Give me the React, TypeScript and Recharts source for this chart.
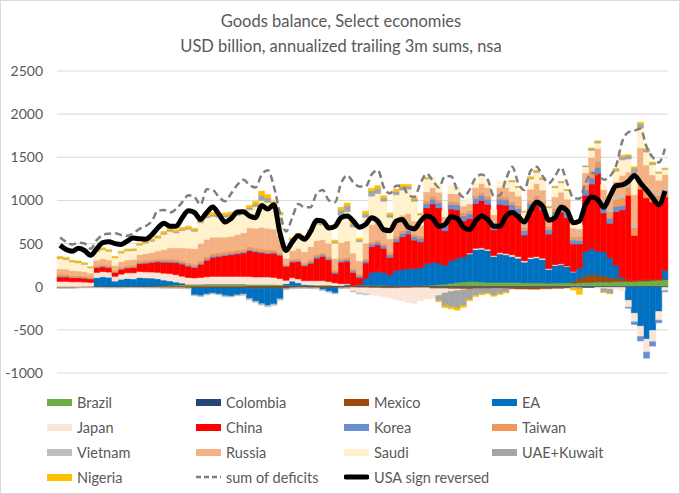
import React from "react";
import {
  ComposedChart,
  Bar,
  Line,
  XAxis,
  YAxis,
  CartesianGrid
} from "recharts";

// quarterly-ish readings, 100 periods, USD bn
const BRAZIL = [
  -5, -5, -3, 0, 2, 3,
  3, 3, 3, 3, 4, 4, 4,
  5, 5, 8, 10, 15, 20, 22,
  25, 25, 25, 25, 28, 28, 28, 28, 28, 28, 28,
  28, 28, 28, 28, 28, 25,
  15, 15, 15, 15, 15, 20, 20, 20, 15,
  15, 15, 15, 15, 15, 15,
  15, 15, 10, 10, 10, 10, 10,
  10, 15, 20, 25, 30, 40, 50, 55,
  60, 60, 55, 50, 50, 50, 50,
  50, 50, 45, 45, 45, 45, 40, 45, 45, 45, 40, 45,
  50, 50, 55, 55, 55, 60, 60, 60, 60, 65, 65, 70, 75, 80
];

const COLOMBIA = [
  2, 2, 2, 2, 2, 2, 2, 2, 2, 2, 2, 2, 2, 2, 2, 2, 2, 2, 2, 2,
  2, 2, 2, 2, 2, 2, 2, 2, 2, 2, 2,
  -3, -3, -3, -3, -3, -3, -3, -3, -3, -3, -3, -3, -3, -3, -3,
  -3, -3, -3, -3, -3, -3, -3, -3, -3, -3, -3, -3, -3, -3, -3,
  -8, -8, -8, -8, -8, -8, -8, -8, -8, -8, -8, -8, -8, -8, -8, -8, -8, -8, -8, -8,
  -8, -8, -8, -8, -8, -8, -8, -8, -8, -8, -8, -8, -8, -8, -8, -8, -8, -8, -8
];

const MEXICO = [
  -8, -8, -10, -10, -8, -8,
  -8, -8, -10, -10, -10, -8, -8, -8, -10, -10, -10, -12, -12, -12, -12,
  -15, -15, -15, -15, -15, -15, -15, -15, -15, -15, -15, -15, -15, -15, -18, -18,
  -20,
  -10, -8, -8, -10, -10, -12, -12, -10, -10, -8, -8, -10, -10, -12, -12,
  -15, -15, -15, -12, -12, -10, -10, -10,
  -15, -15, -15, -18, -18, -20, -20, -15, -15, -15, -12, -12, -15, -15, -18,
  -18, -20, -20, -15, -15, -10, -10, -5,
  20, 50, 80, 90, 80, 70, 50, 40, 30,
  20, 15, 15, 15, 15, 10, 10
];

const EA = [
  0, 0, 0, 0, 0, 0,
  100, 110, 105, 60, 80, 90, 85,
  100, 95, 90, 80, 60, 45, 30,
  15, 0, -80, -90, -70, -60, -70, -90, -95, -80, -70,
  -120, -150, -180, -200, -180, -120,
  20, 50, 30, 10, 5, 0, -20, -40, -60,
  0, 10, 0, 10, 80, 150,
  160, 150, 130, 180, 190, 200, 200,
  210, 250, 260, 250, 220, 260, 280, 290,
  320, 370, 380, 370, 300, 330, 320,
  300, 280, 240, 280, 290, 270, 160, 200, 210, 190, 110, 120,
  280, 300, 280, 280, 230, 150, 20, -150, -300, -450, -600, -500, -280, 100
];

const JAPAN = [
  60, 60, 55, 55, 50, 45,
  60, 60, 60, 55, 60, 65, 70,
  70, 70, 70, 75, 80, 85, 85,
  80, 80, 75, 80, 85, 90, 90, 90, 90, 90, 90,
  90, 85, 85, 85, 80, 70,
  40, 40, 45, 45, 50, 50, 50, 40, 30,
  20, 10, -40, -60, -70, -80,
  -90, -100, -110, -130, -150, -170, -180,
  -150, -130, -110, -80, -50, -30, -20, -10,
  10, 15, 15, 15, 10, 15, 15,
  20, 20, 15, 15, 15, 15, 10, 10, 10, 5, 5, 0,
  0, 0, -10, -15, -20, -20, -40, -80, -100, -120, -150, -130, -100, -40
];

const CHINA = [
  50, 50, 45, 45, 45, 40,
  55, 55, 50, 45, 55, 55, 60,
  90, 100, 110, 120, 125, 130, 140,
  140, 130, 120, 150, 190, 220, 230, 240, 250, 260, 270,
  300, 290, 280, 270, 280, 270,
  160, 180, 200, 170, 200, 260, 280, 250, 110,
  250, 260, 150, 80, 180, 300,
  310, 280, 200, 330, 380, 400, 330,
  300, 650, 680, 640, 400, 600, 560, 420,
  400, 520, 550, 520, 300, 560, 560,
  520, 500, 300, 560, 600, 560, 400, 560, 600, 560, 320, 280,
  650, 750, 900, 450, 400, 620, 780, 980, 520, 1050, 950, 900, 880, 850
];

const KOREA = [
  10, 8, 8, 6, 6, 5,
  8, 8, 8, 6, 8, 8, 10,
  10, 12, 12, 12, 15, 15, 15,
  15, 15, 15, 15, 15, 15, 15, 15, 15, 15, 15,
  15, 15, 15, 15, 15, 10,
  10, 15, 15, 15, 20, 20, 20, 20, 15,
  20, 20, 20, 20, 25, 30,
  30, 30, 30, 35, 40, 40, 40,
  40, 50, 55, 55, 50, 55, 60, 55,
  55, 60, 60, 60, 50, 60, 60,
  60, 55, 50, 60, 65, 60, 50, 55, 60, 55, 45, 40,
  60, 70, 70, 60, 60, 60, 50, -10, -30, -50, -70, -50, -30, -10
];

const TAIWAN = [
  25, 25, 22, 20, 20, 18,
  20, 22, 22, 18, 22, 22, 22,
  25, 25, 25, 25, 25, 25, 25,
  25, 25, 25, 30, 30, 30, 30, 30, 30, 30, 30,
  30, 30, 30, 30, 25, 20,
  15, 20, 20, 20, 25, 25, 25, 25, 25,
  25, 25, 25, 25, 25, 25,
  25, 25, 25, 30, 30, 30, 30,
  30, 35, 35, 35, 30, 35, 35, 35,
  35, 35, 35, 35, 35, 35, 35,
  35, 35, 35, 40, 40, 40, 35, 40, 40, 40, 40, 45,
  60, 70, 70, 70, 75, 80, 90, 90, 90, 100, 100, 100, 90, 80
];

const VIETNAM = [
  -5, -5, -5, -5, -5, -5, -5, -5, -5, -5, -5, -5, -5, -5, -5, -5, -5, -5, -5, -5,
  -10, -10, -10, -10, -10, -10, -10, -10, -10, -10,
  -15, -15, -15, -15, -15, -15, -15,
  -10, -10, -10, -10, -10, -10, -10, -10, -10, -10, -10, -10, -10, -10,
  0, 0, 0, 0, 0, 0, 0, 0, 0, 0,
  10, 10, 10, 10, 10, 10, 10, 10, 10, 10, 10, 10, 10, 10, 10, 10, 10, 10, 10, 10,
  20, 20, 20, 20, 20, 20, 20, 20, 20, 20,
  30, 30, 30, 30, 30, 30, 30, 30, 30
];

const RUSSIA = [
  60, 60, 55, 55, 50, 45,
  60, 65, 60, 55, 60, 65, 65,
  70, 75, 80, 90, 110, 130, 130,
  150, 170, 180, 200, 200, 190, 180, 170, 170, 180, 190,
  220, 230, 250, 250, 240, 200,
  70, 100, 120, 130, 150, 160, 150, 150, 130,
  180, 190, 180, 150, 180, 200,
  200, 190, 160, 180, 180, 170, 150,
  120, 100, 90, 80, 70, 80, 80, 70,
  70, 80, 90, 90, 80, 90, 100,
  110, 100, 90, 120, 130, 120, 110, 110, 110, 100, 80, 70,
  120, 150, 130, 120, 140, 180, 230, 150, 350, 350, 250, 180, 150, 150
];

const SAUDI = [
  120, 110, 100, 95, 85, 60,
  100, 105, 100, 90, 100, 105, 100,
  110, 120, 130, 150, 175, 190, 175,
  200, 220, 200, 240, 250, 240, 230, 230, 230, 220, 220,
  210, 250, 310, 300, 280, 240,
  80, 120, 150, 160, 170, 190, 170, 170, 180,
  320, 340, 300, 220, 300, 330,
  340, 300, 250, 300, 290, 280, 230,
  120, 150, 120, 100, 80, 90, 80, 60,
  60, 70, 80, 80, 60, 70, 80,
  110, 100, 80, 120, 130, 120, 100, 110, 110, 100, 60, 40,
  70, 80, 60, 60, 70, 120, 180, 150, 250, 230, 150, 120, 80, 60
];

const UAE_KUWAIT = [
  10, 10, 8, 8, 8, 6,
  8, 8, 8, 6, 8, 8, 10,
  10, 10, 12, 12, 15, 15, 15,
  15, 15, 15, 20, 20, 20, 20, 25, 25, 25, 25,
  25, 30, 60, 50, 20, 15,
  10, 10, 10, 10, 12, 15, 15, 15, 15,
  60, 70, 40, 20, 40, 60,
  60, 40, 30, 40, 40, 35, 25,
  10, 10, 0, -60, -150, -180, -200, -180,
  -120, -80, -60, -50, -80, -60, -40,
  10, 10, 5, 15, 15, 15, 10, 10, 10, 5, -10, -20,
  10, 20, 20, -40, -50, 20, 40, 40, 60, 50, 30, 20, 10, 10
];

const NIGERIA = [
  15, 15, 12, 12, 10, 8,
  12, 12, 12, 10, 12, 12, 12,
  12, 12, 15, 15, 20, 20, 20,
  20, 20, 20, 25, 25, 25, 25, 25, 25, 25, 25,
  25, 30, 50, 40, 20, 15,
  10, 15, 15, 15, 15, 20, 20, 20, 20,
  30, 30, 30, 20, 30, 30,
  30, 25, 20, 25, 25, 20, 15,
  10, 5, 0, -10, -20, -20, -25, -20,
  -15, -10, -10, -10, -10, -10, -10,
  5, 5, 5, 10, 10, 10, 5, 5, 5, 5, -20, -60,
  0, 10, 5, -5, -5, 10, 15, 10, 15, 15, 10, 10, 5, 5
];

const DEFICITS = [
  570, 520, 490, 510, 500, 440, 540, 600, 615, 620,
  600, 590, 620, 670, 700, 760, 880, 890, 860, 900,
  980, 1060, 1040, 950, 1130, 1120, 1040, 990, 1080, 1180,
  1240, 1180, 1150, 1300, 1350, 1160, 850, 640, 800, 960,
  920, 920, 1080, 1120, 1000, 980, 1200, 1290, 1210, 1160,
  1160, 1300, 1350, 1150, 1080, 1170, 1170, 1060, 1040, 1200,
  1310, 1230, 1150, 1280, 1280, 1120, 1040, 1120, 1260, 1300,
  1240, 1050, 1060, 1250, 1390, 1200, 1120, 1340, 1390, 1280,
  1200, 1280, 1380, 1200, 1030, 1020, 1200, 1320, 1300, 1240,
  1280, 1400, 1680, 1790, 1810, 1830, 1620, 1500, 1440, 1600
];

const USA_REVERSED = [
  480, 430, 410, 445, 420, 365, 440, 510, 520, 500,
  490, 530, 565, 555, 550, 600, 680, 735, 700, 700,
  800, 880, 860, 780, 860, 925, 840, 750, 790, 865,
  870, 820, 800, 940, 900, 950, 620, 420, 520, 590,
  550, 640, 770, 760, 680, 700, 800, 820, 760, 690,
  720, 800, 760, 660, 650, 760, 780, 690, 670, 760,
  820, 790, 700, 720, 810, 790, 690, 660, 760, 820,
  780, 700, 700, 820, 860, 810, 750, 880, 980, 930,
  770, 800, 920, 880, 740, 760, 950, 1040, 1010, 920,
  1050, 1170, 1180, 1220, 1290, 1200, 1120, 1030, 950, 1110
];

const SERIES = [
  { key: "Brazil", color: "#70ad47", values: BRAZIL },
  { key: "Colombia", color: "#264478", values: COLOMBIA },
  { key: "Mexico", color: "#9e480e", values: MEXICO },
  { key: "EA", color: "#0070c0", values: EA },
  { key: "Japan", color: "#fbe5d6", values: JAPAN },
  { key: "China", color: "#ff0000", values: CHINA },
  { key: "Korea", color: "#698ed0", values: KOREA },
  { key: "Taiwan", color: "#f1975a", values: TAIWAN },
  { key: "Vietnam", color: "#bfbfbf", values: VIETNAM },
  { key: "Russia", color: "#f4b183", values: RUSSIA },
  { key: "Saudi", color: "#fff2cc", values: SAUDI },
  { key: "UAE+Kuwait", color: "#a5a5a5", values: UAE_KUWAIT },
  { key: "Nigeria", color: "#ffc000", values: NIGERIA }
];

const data = USA_REVERSED.map((usa, i) => {
  const row: Record<string, number> = { i, usa, deficits: DEFICITS[i] };
  SERIES.forEach((s) => {
    row[s.key] = s.values[i];
  });
  return row;
});

const FONT = "Lato, 'Open Sans', sans-serif";
const TEXT = "#595959";

const legendItems = [
  ...SERIES.map((s) => ({ label: s.key, color: s.color, kind: "box" })),
  { label: "sum of deficits", color: "#7f7f7f", kind: "dash" },
  { label: "USA sign reversed", color: "#000000", kind: "line" }
];

const colX = [46, 195, 343, 491];
const rowY = [401, 426, 451, 476];

function Swatch({ kind, color }: { kind: string; color: string }) {
  if (kind === "box") {
    return <div style={{ width: 25, height: 7, background: color }} />;
  }
  if (kind === "dash") {
    return (
      <svg width={25} height={8}>
        <line x1={0} y1={4} x2={25} y2={4} stroke={color} strokeWidth={2.5} strokeDasharray="5 3" />
      </svg>
    );
  }
  return (
    <svg width={25} height={8}>
      <line x1={2} y1={4} x2={23} y2={4} stroke={color} strokeWidth={5} strokeLinecap="round" />
    </svg>
  );
}

export default function App() {
  return (
    <div
      style={{
        position: "fixed",
        left: 0,
        top: 0,
        width: 680,
        height: 494,
        background: "#fff",
        border: "1px solid #d9d9d9",
        boxSizing: "border-box",
        fontFamily: FONT,
        color: TEXT
      }}
    >
      <div style={{ position: "absolute", left: 0, width: 680, top: 8, textAlign: "center", fontSize: 16.5, lineHeight: "24px" }}>
        Goods balance, Select economies
      </div>
      <div style={{ position: "absolute", left: 0, width: 680, top: 33, textAlign: "center", fontSize: 16.5, lineHeight: "24px" }}>
        USD billion, annualized trailing 3m sums, nsa
      </div>

      <div style={{ position: "absolute", left: -1, top: -1 }}>
        <ComposedChart
          width={680}
          height={494}
          data={data}
          stackOffset="sign"
          barCategoryGap={0}
          barGap={0}
          margin={{ top: 71, right: 12, bottom: 121, left: 0 }}
        >
          <CartesianGrid vertical={false} stroke="#d9d9d9" strokeWidth={1} />
          <XAxis dataKey="i" hide />
          <YAxis
            width={57}
            domain={[-1000, 2500]}
            ticks={[-1000, -500, 0, 500, 1000, 1500, 2000, 2500]}
            axisLine={false}
            tickLine={false}
            tickSize={0}
            tickMargin={14}
            tick={{ fontSize: 14, fill: TEXT, fontFamily: FONT }}
          />
          {SERIES.map((s) => (
            <Bar
              key={s.key}
              dataKey={s.key}
              stackId="a"
              fill={s.color}
              stroke={s.color}
              strokeWidth={0.6}
              isAnimationActive={false}
            />
          ))}
          <Line
            dataKey="deficits"
            type="monotone"
            stroke="#7f7f7f"
            strokeWidth={2.5}
            strokeDasharray="7 4"
            dot={false}
            isAnimationActive={false}
          />
          <Line
            dataKey="usa"
            type="monotone"
            stroke="#000000"
            strokeWidth={5}
            dot={false}
            isAnimationActive={false}
          />
        </ComposedChart>
      </div>

      {legendItems.map((it, k) => (
        <div
          key={it.label}
          style={{
            position: "absolute",
            left: colX[k % 4],
            top: rowY[Math.floor(k / 4)] - 10,
            height: 20,
            display: "flex",
            alignItems: "center",
            gap: 5,
            fontSize: 14.5,
            whiteSpace: "nowrap"
          }}
        >
          <Swatch kind={it.kind} color={it.color} />
          <span>{it.label}</span>
        </div>
      ))}
    </div>
  );
}
